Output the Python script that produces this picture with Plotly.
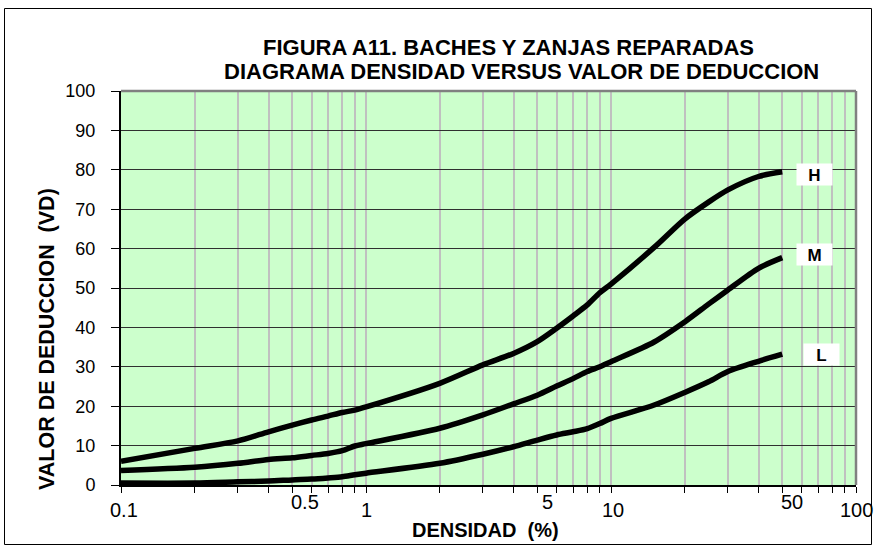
import math
import plotly.graph_objects as go

# ---------------- data ----------------
densidad = [0.1, 0.2, 0.3, 0.4, 0.5, 0.6, 0.7, 0.8, 0.9, 1, 2, 3, 4, 5, 6, 7, 8, 9, 10,
            15, 20, 25, 30, 40, 50]
vd_H = [6.0, 9.3, 11.2, 13.5, 15.2, 16.5, 17.5, 18.4, 19.0, 19.8, 25.8, 30.5, 33.4, 36.4,
        39.8, 42.9, 45.7, 48.8, 51.0, 60.3, 67.5, 71.8, 74.9, 78.3, 79.5]
vd_M = [3.7, 4.5, 5.5, 6.5, 6.9, 7.5, 8.0, 8.7, 9.9, 10.5, 14.4, 17.8, 20.6, 22.8, 25.1,
        27.0, 28.8, 30.0, 31.3, 36.3, 41.4, 45.9, 49.5, 55.0, 57.7]
vd_L = [0.5, 0.5, 0.8, 1.0, 1.3, 1.5, 1.8, 2.1, 2.6, 3.0, 5.5, 7.8, 9.7, 11.4, 12.7, 13.5,
        14.3, 15.6, 16.9, 20.3, 23.5, 26.2, 28.8, 31.4, 33.2]

severity_names = ["H", "M", "L"]
severity_label_x = [68, 68, 72]
severity_label_y = [78.7, 58.6, 33.0]

x_tick_vals = [0.1, 0.5, 1, 5, 10, 50, 100]
x_tick_text = ["0.1", "0.5", "1", "5", "10", "50", "100"]

title_lines = ["FIGURA A11. BACHES Y ZANJAS REPARADAS",
               "DIAGRAMA DENSIDAD VERSUS VALOR DE DEDUCCION"]
x_title = "DENSIDAD  (%)"
y_title = "VALOR DE DEDUCCION  (VD)"

# ---------------- layout geometry (pixels) ----------------
W, H = 878, 547
L_M, R_M, T_M, B_M = 121, 22, 91, 62
PW = W - L_M - R_M
PH = H - T_M - B_M


def px(xp):
    return (xp - L_M) / PW


def py(yp):
    return (H - B_M - yp) / PH


FONT = "Liberation Sans, Arial, sans-serif"

fig = go.Figure()
for ys in (vd_H, vd_M, vd_L):
    fig.add_trace(go.Scatter(
        x=densidad, y=ys, mode="lines",
        line=dict(color="black", width=5.5, shape="spline", smoothing=0.8),
        showlegend=False, hoverinfo="skip"))

annotations = []
# title
for txt, cx, cy in zip(title_lines, [508, 521], [47, 71]):
    annotations.append(dict(text="<b>%s</b>" % txt, xref="paper", yref="paper",
                            x=px(cx), y=py(cy), xanchor="center", yanchor="middle",
                            showarrow=False, font=dict(family=FONT, size=22, color="black")))
# axis titles
annotations.append(dict(text="<b>%s</b>" % x_title, xref="paper", yref="paper",
                        x=px(485), y=py(530), xanchor="center", yanchor="middle",
                        showarrow=False, font=dict(family=FONT, size=20, color="black")))
annotations.append(dict(text="<b>%s</b>" % y_title, xref="paper", yref="paper",
                        x=px(47), y=py(339), xanchor="center", yanchor="middle",
                        textangle=-90, showarrow=False,
                        font=dict(family=FONT, size=21.5, color="black")))
# x tick labels (staggered as in the original)
tick_dx = [3, 13, 0, 10, 2, 10, 0]
tick_cy = [510, 502, 510, 502, 510, 502, 510]
for v, t, dx, cy in zip(x_tick_vals, x_tick_text, tick_dx, tick_cy):
    annotations.append(dict(text=t, xref="x", yref="paper", x=math.log10(v), y=py(cy),
                            xanchor="center", yanchor="middle", xshift=dx,
                            showarrow=False, font=dict(family=FONT, size=20, color="black")))
# severity labels
for name, lx, ly in zip(severity_names, severity_label_x, severity_label_y):
    annotations.append(dict(text="<b>%s</b>" % name, xref="x", yref="y",
                            x=math.log10(lx), y=ly, xanchor="center", yanchor="middle",
                            showarrow=False, bgcolor="white", width=35, height=21,
                            valign="bottom", borderpad=0,
                            font=dict(family=FONT, size=17, color="black")))

shapes = [
    # plot border top & right (gray)
    dict(type="line", xref="paper", yref="paper", x0=0, x1=1, y0=1, y1=1,
         line=dict(color="#808080", width=2.5)),
    dict(type="line", xref="paper", yref="paper", x0=1, x1=1, y0=0, y1=1,
         line=dict(color="#808080", width=2.5)),
    # outer chart border
    dict(type="rect", xref="paper", yref="paper", x0=px(4.5), x1=px(871.5),
         y0=py(544.5), y1=py(8.5), line=dict(color="black", width=1), layer="below"),
]

fig.update_layout(
    width=W, height=H,
    margin=dict(l=L_M, r=R_M, t=T_M, b=B_M),
    paper_bgcolor="white", plot_bgcolor="#CCFFCC",
    annotations=annotations, shapes=shapes,
    showlegend=False,
    font=dict(family=FONT, color="black"),
)
fig.update_xaxes(
    type="log", range=[-1, 2],
    tickvals=[0.1, 1, 10, 100], showticklabels=False,
    ticks="outside", ticklen=6, tickcolor="black", tickwidth=1,
    showgrid=True, gridcolor="#C0C0C0", gridwidth=1.5,
    minor=dict(dtick="D1", ticks="outside", ticklen=6, tickcolor="black",
               showgrid=True, gridcolor="#C0C0C0", gridwidth=1.5),
    showline=True, linecolor="black", linewidth=2, zeroline=False,
)
fig.update_yaxes(
    range=[0, 100], dtick=10, tick0=0,
    ticks="outside", ticklen=8, tickcolor="black", tickwidth=1,
    ticklabelstandoff=12,
    tickfont=dict(family=FONT, size=18, color="black"),
    showgrid=True, gridcolor="#303030", gridwidth=1,
    showline=True, linecolor="black", linewidth=2, zeroline=False,
)

# place the figure at the page's top-left corner (no default body margin)
fig.write_html("out.html",
               config={"displayModeBar": False},
               post_script="document.body.style.margin='0px';document.body.style.overflow='hidden';")
